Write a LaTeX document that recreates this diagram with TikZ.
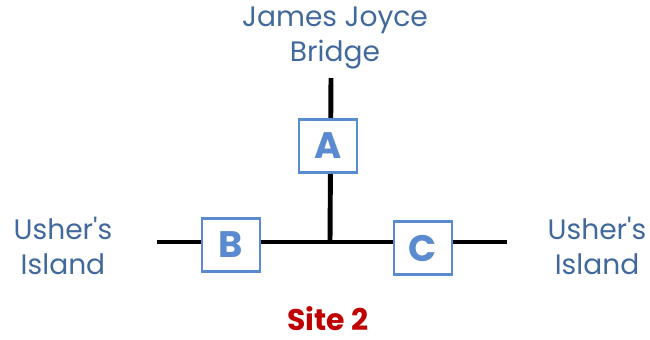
\documentclass[tikz,border=0pt]{standalone}
\usepackage{fontspec}
\setmainfont{Poppins}
\usetikzlibrary{positioning}
\definecolor{labelblue}{HTML}{41699B}
\definecolor{boxblue}{HTML}{5A8AD0}
\definecolor{sitered}{HTML}{C00000}
\tikzstyle{road}=[line width=2.8pt,black]
\tikzstyle{gate}=[draw=boxblue,line width=1.6pt,fill=white,text=boxblue,
                minimum width=1.16cm,minimum height=1.06cm,inner sep=0,
                font=\fontsize{21}{24}\selectfont\bfseries]
\tikzstyle{place}=[text=labelblue,align=center,
                font=\fontsize{16}{20}\selectfont]

\begin{document}
\begin{tikzpicture}[x=0.02cm,y=-0.02cm]
\useasboundingbox (0,0) rectangle (650,339);
\coordinate (W) at (157,242);
\coordinate (E) at (507,242);
\coordinate (N) at (331,78);
\coordinate (J) at (330,242);
\draw[road](W)--(E);
\draw[road](N)--(J);
\node[gate] (A) at (328,146) {A};
\node[gate] (B) at (231,245) {B};
\node[gate] (C) at (423,248) {C};
\node[place] (bridge) at (335,38) {James Joyce\\Bridge};
\node[place] (usherW) at (63,246) {Usher\textquotesingle s\\Island};
\node[place] (usherE) at (597,246) {Usher\textquotesingle s\\Island};
\node[text=sitered,inner sep=0,font=\fontsize{17}{20}\selectfont\bfseries] (site) at (328,319) {Site 2};
\end{tikzpicture}
\end{document}
